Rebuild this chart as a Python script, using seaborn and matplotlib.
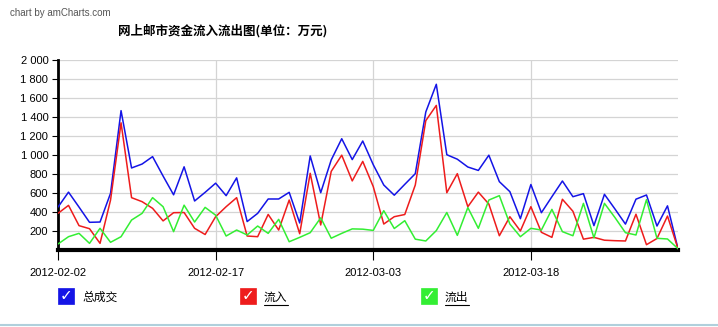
import numpy as np
import pandas as pd
import matplotlib
matplotlib.use("Agg")
import matplotlib.pyplot as plt
import matplotlib.dates as mdates
from matplotlib.patches import Rectangle
from matplotlib.lines import Line2D
import seaborn as sns

# ---------------- data ----------------
start_date = "2012-02-02"
n_days = 60
dates = pd.date_range(start_date, periods=n_days, freq="D")

total = [455, 612, 455, 295, 298, 600, 1468, 866, 907, 985,
         781, 584, 878, 519, 610, 706, 575, 762, 303, 389,
         540, 540, 610, 288, 992, 606, 950, 1173, 954, 1149,
         900, 687, 580, 694, 806, 1454, 1745, 1005, 958, 876,
         840, 1000, 722, 617, 333, 692, 396, 564, 729, 564,
         596, 260, 589, 435, 276, 538, 582, 256, 468, 18]

inflow = [389, 473, 260, 228, 74, 529, 1340, 554, 512, 442,
          310, 396, 398, 232, 167, 354, 459, 554, 151, 144,
          378, 214, 529, 175, 810, 267, 830, 1000, 730, 935,
          670, 277, 354, 377, 687, 1363, 1523, 606, 806, 459,
          612, 487, 154, 354, 204, 459, 190, 137, 537, 411,
          118, 137, 107, 102, 99, 380, 60, 125, 361, 18]

outflow = [67, 144, 179, 74, 232, 85, 144, 319, 389, 554,
           459, 197, 475, 298, 452, 370, 151, 214, 162, 256,
           179, 326, 91, 137, 186, 342, 128, 179, 226, 223,
           210, 417, 230, 312, 118, 99, 208, 398, 158, 450,
           232, 529, 575, 277, 144, 232, 214, 431, 197, 154,
           494, 132, 494, 345, 186, 162, 533, 127, 120, 18]

series_names = ["总成交", "流入", "流出"]
series_colors = ["#1414e6", "#ee1c1c", "#33ee33"]
x_tick_labels = ["2012-02-02", "2012-02-17", "2012-03-03", "2012-03-18"]
y_ticks = [200, 400, 600, 800, 1000, 1200, 1400, 1600, 1800, 2000]
title_text = "网上邮市资金流入流出图(单位：万元)"
credit_text = "chart by amCharts.com"

df = pd.DataFrame({
    "date": np.tile(dates, 3),
    "value": total + inflow + outflow,
    "series": np.repeat(series_names, n_days),
})

# ---------------- style ----------------
sns.set_theme(style="white")
plt.rcParams["font.family"] = ["Liberation Sans", "Noto Sans CJK SC", "DejaVu Sans"]

W, H = 718, 327
fig = plt.figure(figsize=(W / 100, H / 100), dpi=100)
fig.patch.set_facecolor("white")

def fx(px):
    return px / W

def fy(py):
    return 1 - py / H

left, right, top, bottom = 58, 678, 60, 250.4
ax = fig.add_axes([fx(left), fy(bottom), fx(right - left), fy(top) - fy(bottom)])
ax.set_facecolor("white")

sns.lineplot(data=df, x="date", y="value", hue="series",
             palette=dict(zip(series_names, series_colors)),
             linewidth=1.1, ax=ax, legend=False, zorder=3)

ax.set_xlim(dates[0], dates[-1])
ax.set_ylim(0, 2000)
ax.set_xlabel("")
ax.set_ylabel("")

ax.set_yticks(y_ticks)
ax.set_yticklabels([f"{v:,}".replace(",", " ") for v in y_ticks], fontsize=8)
tick_dates = pd.to_datetime(x_tick_labels)
ax.set_xticks(tick_dates)
ax.set_xticklabels(x_tick_labels, fontsize=8)

ax.grid(True, axis="y", color="#d4d4d4", linewidth=0.9)
ax.grid(True, axis="x", color="#d4d4d4", linewidth=0.9)
ax.set_axisbelow(True)

for s in ["top", "right"]:
    ax.spines[s].set_visible(False)
ax.spines["left"].set_color("black")
ax.spines["left"].set_linewidth(2)
ax.spines["bottom"].set_color("black")
ax.spines["bottom"].set_linewidth(3)

ax.tick_params(axis="y", which="major", direction="out", length=4, width=0.8,
               color="black", left=True, pad=3, labelcolor="black")
ax.tick_params(axis="x", which="major", direction="out", length=7, width=0.8,
               color="black", bottom=True, pad=6, labelcolor="black")

# ---------------- titles ----------------
fig.text(fx(10), fy(13), credit_text, fontsize=7, color="#555555",
         ha="left", va="center", family=["Liberation Sans", "DejaVu Sans"])
fig.text(fx(118), fy(31), title_text, fontsize=9, fontweight="bold",
         color="black", ha="left", va="center",
         family=["Noto Sans CJK SC", "DejaVu Sans"])

# ---------------- legend ----------------
legend_x = [58, 240, 421]
for i, (name, col) in enumerate(zip(series_names, series_colors)):
    bx = legend_x[i]
    fig.add_artist(Rectangle((fx(bx), fy(304)), fx(16), fy(288) - fy(304),
                             transform=fig.transFigure, facecolor=col,
                             edgecolor=col, linewidth=0.5))
    fig.text(fx(bx + 8), fy(296), "✓", color="white", fontsize=11,
             fontweight="bold", ha="center", va="center",
             family=["DejaVu Sans"])
    tx = bx + 24
    t = fig.text(fx(tx), fy(297), name, fontsize=8.5, color="black",
                 ha="left", va="center",
                 family=["Noto Sans CJK SC", "DejaVu Sans"])
    if i > 0:
        fig.add_artist(Line2D([fx(tx), fx(tx + 24)], [fy(305), fy(305)],
                              transform=fig.transFigure, color="black",
                              linewidth=0.8))

# bottom border line
fig.add_artist(Line2D([0, 1], [fy(325), fy(325)], transform=fig.transFigure,
                      color="#b0d0dc", linewidth=1.5))

fig.savefig("out.png", dpi=100, facecolor="white")
